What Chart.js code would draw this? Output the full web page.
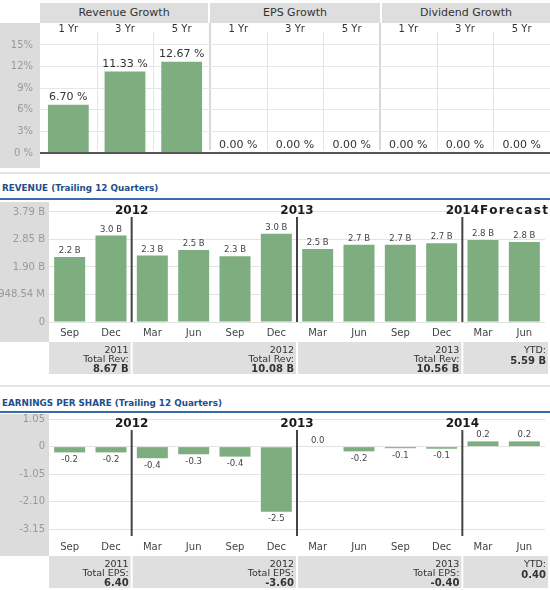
<!DOCTYPE html>
<html><head><meta charset="utf-8">
<script src="https://cdn.jsdelivr.net/npm/chart.js@4/dist/chart.umd.min.js"></script>
<style>
body{margin:0;background:#fff;width:550px;height:590px;position:relative;overflow:hidden;font-family:"DejaVu Sans",Verdana,sans-serif;}
.hdr{position:absolute;top:3px;height:20px;background:#dedede;color:#333;font-size:11px;line-height:20px;text-align:center;}
.sep{position:absolute;left:0;width:550px;height:2px;background:#e4e4e4;}
.title{position:absolute;left:2px;font-weight:bold;font-size:8.8px;line-height:12px;color:#1f4e8c;white-space:nowrap;}
.blue{position:absolute;left:0;width:550px;height:2px;background:#3b6aa5;}
canvas{position:absolute;left:0;}
</style></head><body>
<div class="hdr" style="left:40px;width:168px">Revenue Growth</div>
<div class="hdr" style="left:210px;width:170px">EPS Growth</div>
<div class="hdr" style="left:382px;width:168px">Dividend Growth</div>
<canvas id="c1" width="550" height="145" style="top:23px"></canvas>
<div class="sep" style="top:172px"></div>
<div class="title" style="top:182px">REVENUE (Trailing 12 Quarters)</div>
<div class="blue" style="top:198px"></div>
<canvas id="c2" width="550" height="175" style="top:201px"></canvas>
<div class="sep" style="top:385px"></div>
<div class="title" style="top:397px">EARNINGS PER SHARE (Trailing 12 Quarters)</div>
<div class="blue" style="top:411px"></div>
<canvas id="c3" width="550" height="176" style="top:414px"></canvas>
<script>
// ---------- data ----------
const growthCategories = ['1 Yr','3 Yr','5 Yr','1 Yr','3 Yr','5 Yr','1 Yr','3 Yr','5 Yr'];
const growthValues = [6.70, 11.33, 12.67, 0, 0, 0, 0, 0, 0];
const growthTicks = [0, 3, 6, 9, 12, 15];

const quarterLabels = ['Sep','Dec','Mar','Jun','Sep','Dec','Mar','Jun','Sep','Dec','Mar','Jun'];
const revenueValues = [2.24, 2.98, 2.29, 2.48, 2.27, 3.04, 2.52, 2.66, 2.66, 2.72, 2.83, 2.76];
const revenueTicks = [0, 0.94854, 1.89708, 2.84562, 3.79416];
const epsValues = [-0.22, -0.22, -0.44, -0.29, -0.38, -2.48, 0.0, -0.18, -0.06, -0.08, 0.2, 0.2];
const epsTicks = [-3.15, -2.10, -1.05, 0, 1.05];

const yearMarkers = ['2012', '2013', '2014'];
const footerYears = ['2011', '2012', '2013', 'YTD:'];
const revenueTotals = ['8.67 B', '10.08 B', '10.56 B', '5.59 B'];
const epsTotals = ['6.40', '-3.60', '-0.40', '0.40'];

// ---------- styling ----------
const F = '"DejaVu Sans", Verdana, sans-serif';
const GREEN = '#7eae80';
const noPad = s => { s.paddingTop = 0; s.paddingBottom = 0; s.paddingLeft = 0; s.paddingRight = 0; };

// ---------- growth chart ----------
new Chart(document.getElementById('c1'), {
  type: 'bar',
  data: { labels: growthCategories, datasets: [{ data: growthValues, backgroundColor: GREEN, barPercentage: 0.72, categoryPercentage: 1 }] },
  options: {
    responsive: false, animation: false, events: [],
    layout: { padding: { top: 0, bottom: 15, left: 0, right: 0 } },
    plugins: { legend: { display: false }, tooltip: { enabled: false } },
    scales: {
      x: { position: 'top', grid: { display: false, drawTicks: false }, border: { display: false },
           ticks: { padding: -3, color: '#333', maxRotation: 0, font: { size: 10, family: F } },
           afterFit: s => { s.height = 9; noPad(s); } },
      y: { min: 0, max: 16.8,
           afterBuildTicks: s => { s.ticks = growthTicks.map(v => ({ value: v })); },
           afterFit: s => { s.width = 40; noPad(s); },
           border: { display: false },
           grid: { drawTicks: false, color: c => c.tick && c.tick.value === 0 ? '#555' : '#e6e6e6', lineWidth: c => c.tick && c.tick.value === 0 ? 2 : 1 },
           ticks: { padding: 7, color: '#999', font: { size: 10, family: F }, callback: v => v === 0 ? '0 %' : v + '%' } }
    }
  },
  plugins: [{
    id: 'growthDeco',
    beforeDraw(chart) {
      const ctx = chart.ctx, ca = chart.chartArea, xs = chart.scales.x;
      ctx.save();
      ctx.fillStyle = '#dcdcdc';
      ctx.fillRect(0, 0, ca.left, chart.height);
      const n = growthCategories.length;
      for (let i = 1; i < n; i++) {
        const xp = (xs.getPixelForValue(i - 1) + xs.getPixelForValue(i)) / 2;
        if (i % 3 === 0) {
          ctx.fillStyle = '#d8d8d8';
          ctx.fillRect(xp - 1, 0, 2, ca.bottom - 3);
        } else {
          ctx.strokeStyle = '#e4e4e4'; ctx.lineWidth = 1;
          ctx.beginPath(); ctx.moveTo(Math.round(xp) + 0.5, ca.top); ctx.lineTo(Math.round(xp) + 0.5, ca.bottom - 3); ctx.stroke();
        }
      }
      ctx.restore();
    },
    afterDatasetsDraw(chart) {
      const ctx = chart.ctx;
      ctx.save();
      ctx.font = '11px ' + F; ctx.fillStyle = '#333'; ctx.textAlign = 'center'; ctx.textBaseline = 'bottom';
      chart.getDatasetMeta(0).data.forEach((bar, i) => {
        ctx.fillText(growthValues[i].toFixed(2) + ' %', bar.x, bar.y - 2);
      });
      ctx.restore();
    }
  }]
});

// ---------- quarter charts ----------
function quarterChart(id, values, ticks, tickFmt, min, max, padTop, colTop, totals, totalLabel, forecast) {
  return new Chart(document.getElementById(id), {
    type: 'bar',
    data: { labels: quarterLabels, datasets: [{ data: values, backgroundColor: GREEN, barPercentage: 0.75, categoryPercentage: 1 }] },
    options: {
      responsive: false, animation: false, events: [],
      layout: { padding: { top: padTop, bottom: 34, left: 0, right: 5 } },
      plugins: { legend: { display: false }, tooltip: { enabled: false } },
      scales: {
        x: { grid: { display: false, drawTicks: false }, border: { display: false },
             ticks: { padding: 5, color: '#444', maxRotation: 0, autoSkip: false, font: { size: 10, family: F } },
             afterFit: s => { s.height = 20; noPad(s); } },
        y: { min: min, max: max,
             afterBuildTicks: s => { s.ticks = ticks.map(v => ({ value: v })); },
             afterFit: s => { s.width = 49; noPad(s); },
             border: { display: false },
             grid: { drawTicks: false, color: '#e3e3e3' },
             ticks: { padding: 4, color: '#999', font: { size: 10, family: F }, callback: tickFmt } }
      }
    },
    plugins: [{
      id: 'quarterDeco',
      beforeDraw(chart) {
        const ctx = chart.ctx, ca = chart.chartArea;
        ctx.save(); ctx.fillStyle = '#dcdcdc';
        ctx.fillRect(0, colTop, ca.left, ca.bottom + 20 - colTop);
        ctx.restore();
      },
      afterDatasetsDraw(chart) {
        const ctx = chart.ctx, ca = chart.chartArea, xs = chart.scales.x;
        ctx.save();
        // value labels
        ctx.font = '8.5px ' + F; ctx.fillStyle = '#444'; ctx.textAlign = 'center';
        chart.getDatasetMeta(0).data.forEach((bar, i) => {
          const v = values[i];
          const t = v.toFixed(1) + (totalLabel === 'Total Rev:' ? ' B' : '');
          if (v < 0) { ctx.textBaseline = 'top'; ctx.fillText(t, bar.x, bar.y + 3); }
          else { ctx.textBaseline = 'bottom'; ctx.fillText(t, bar.x, bar.y - 2); }
        });
        // year boundaries
        const bounds = [];
        quarterLabels.forEach((q, i) => { if (i > 0 && q === 'Mar') bounds.push((xs.getPixelForValue(i - 1) + xs.getPixelForValue(i)) / 2); });
        bounds.forEach((bx, k) => {
          ctx.strokeStyle = '#444'; ctx.lineWidth = 2;
          ctx.beginPath(); ctx.moveTo(bx, 16); ctx.lineTo(bx, ca.bottom); ctx.stroke();
          ctx.font = 'bold 12px ' + F; ctx.fillStyle = '#1a1a1a'; ctx.textBaseline = 'middle'; ctx.textAlign = 'center';
          ctx.fillText(yearMarkers[k], bx, 9.5);
          if (k === bounds.length - 1 && forecast) {
            const w = ctx.measureText(yearMarkers[k]).width;
            ctx.textAlign = 'left'; ctx.letterSpacing = '1.4px';
            ctx.fillText(forecast, bx + w / 2 + 1, 9.5);
            ctx.letterSpacing = '0px';
          }
        });
        // footer boxes
        const edges = [ca.left, ...bounds, ca.right + 3];
        const fy = ca.bottom + 20;
        for (let k = 0; k < edges.length - 1; k++) {
          const l = k === 0 ? edges[k] : edges[k] + 1;
          const r = k === edges.length - 2 ? edges[k + 1] : edges[k + 1] - 1;
          ctx.fillStyle = '#dfdfdf'; ctx.fillRect(l, fy, r - l, 32);
          ctx.fillStyle = '#333'; ctx.textAlign = 'right'; ctx.textBaseline = 'middle';
          const tx = r - 2;
          const isYtd = k === edges.length - 2;
          ctx.font = '9.5px ' + F;
          ctx.fillText(footerYears[k], tx, fy + 9);
          if (!isYtd) {
            ctx.fillText(totalLabel, tx, fy + 18);
            ctx.font = 'bold 10px ' + F; ctx.fillText(totals[k], tx, fy + 27.5);
          } else {
            ctx.font = 'bold 10px ' + F; ctx.fillText(totals[k], tx, fy + 19);
          }
        }
        ctx.restore();
      }
    }]
  });
}

quarterChart('c2', revenueValues, revenueTicks,
  v => v === 0 ? '0' : (v < 1 ? (v * 1000).toFixed(2) + ' M' : v.toFixed(2) + ' B'),
  0, 4.035, 4, 1, revenueTotals, 'Total Rev:', 'Forecast');

quarterChart('c3', epsValues, epsTicks,
  v => v === 0 ? '0' : v.toFixed(2),
  -3.398, 1.203, 1, 0, epsTotals, 'Total EPS:', null);
</script>
</body></html>
